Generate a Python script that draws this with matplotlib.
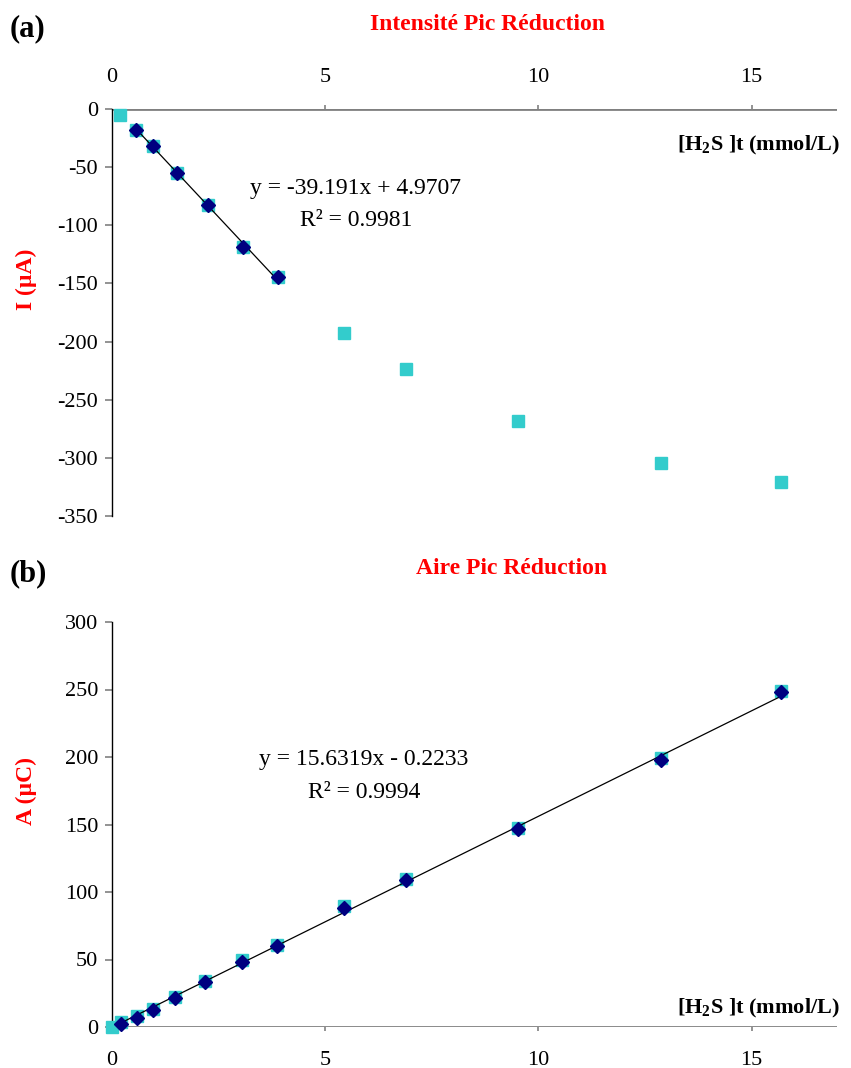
import matplotlib
matplotlib.use("Agg")
import matplotlib.pyplot as plt
import numpy as np

plt.rcParams['font.family'] = ['Liberation Serif', 'DejaVu Serif']
plt.rcParams['mathtext.fontset'] = 'custom'
plt.rcParams['mathtext.rm'] = 'Liberation Serif'
plt.rcParams['mathtext.bf'] = 'Liberation Serif:bold'
plt.rcParams['mathtext.it'] = 'Liberation Serif:italic'

# ---- data (a) ----
conc_a = [0.19, 0.57, 0.95, 1.53, 2.24, 3.08, 3.89, 5.44, 6.89, 9.53, 12.87, 15.69]
intensity = [-5, -17.8, -31.5, -55.3, -82.8, -118.6, -144.4, -192.4, -223.3, -268, -304, -321]
conc_a_fit = [0.57, 0.95, 1.53, 2.24, 3.08, 3.89]
intensity_fit = [-17.8, -31.5, -55.3, -82.8, -118.6, -144.4]
slope_a, icpt_a = -39.191, 4.9707

# ---- data (b) ----
conc_b = [0.0, 0.22, 0.58, 0.96, 1.47, 2.18, 3.05, 3.88, 5.44, 6.89, 9.53, 12.87, 15.69]
area = [0, 3.5, 8, 13.5, 22.5, 34, 49.5, 61, 89.5, 110, 147.5, 199, 249]
conc_b_fit = [0.22, 0.58, 0.96, 1.47, 2.18, 3.05, 3.88, 5.44, 6.89, 9.53, 12.87, 15.69]
area_fit = [2, 6.5, 12.5, 21.5, 33, 48, 60, 88, 109, 146.5, 198, 248]
slope_b, icpt_b = 15.6319, -0.2233

xticks = [0, 5, 10, 15]
yticks_a = [0, -50, -100, -150, -200, -250, -300, -350]
yticks_b = [0, 50, 100, 150, 200, 250, 300]

CYAN = '#33CCCC'
NAVY = '#000080'
RED = '#FF0000'
GRAY = '#808080'

W, H = 851, 1068
fig = plt.figure(figsize=(W / 100, H / 100), dpi=100)

def fx(px):
    return px / W

def fy(py):
    return 1 - py / H

TICK_FS = 16
EQ_FS = 17
TITLE_FS = 17
YLAB_FS = 17
XLAB_FS = 16
PANEL_FS = 22

def style_axes(ax, top):
    for s in ['right', 'top', 'bottom']:
        ax.spines[s].set_visible(False)
    ax.spines['left'].set_color('black')
    ax.spines['left'].set_linewidth(1.0)
    ax.axhline(0, color=GRAY, lw=2.0, zorder=1)
    ax.set_xlim(0, 17)
    ax.set_xticks(xticks)
    ax.set_xticklabels([str(t) for t in xticks])
    if top:
        ax.xaxis.set_ticks_position('top')
        ax.tick_params(axis='x', direction='out', length=0, pad=15.5,
                       labelsize=TICK_FS)
    else:
        ax.tick_params(axis='x', direction='out', length=0, pad=17,
                       labelsize=TICK_FS)
    ax.tick_params(axis='y', direction='out', length=5, width=1.2,
                   color=GRAY, labelsize=TICK_FS, pad=5)
    ax.patch.set_alpha(0)

# ---------- (a) ----------
ax1 = fig.add_axes([fx(112), fy(516), fx(837) - fx(112), fy(109) - fy(516)])
style_axes(ax1, top=True)
ax1.set_ylim(-350, 0)
ax1.set_yticks(yticks_a)
ax1.set_yticklabels([str(t) for t in yticks_a])
ax1.vlines(xticks[1:], 0, 3.5, color=GRAY, lw=1.2, clip_on=False, zorder=2)
ax1.plot(conc_a, intensity, 's', color=CYAN, ms=8.5, mec=CYAN, zorder=3,
         clip_on=False)
xa = np.array([min(conc_a_fit), max(conc_a_fit)])
ax1.plot(xa, slope_a * xa + icpt_a, color='black', lw=0.9, zorder=4)
ax1.plot(conc_a_fit, intensity_fit, 'D', color=NAVY, ms=7.5, zorder=5)
fig.text(fx(356), fy(189), 'y = -39.191x + 4.9707', fontsize=EQ_FS,
         ha='center', va='center')
fig.text(fx(356), fy(221), 'R² = 0.9981', fontsize=EQ_FS, ha='center',
         va='center')
fig.text(fx(840), fy(145), r'[$\mathbf{H_2S}$ ]t (mmol/L)', fontsize=XLAB_FS,
         fontweight='bold', ha='right', va='center')
fig.text(fx(26), fy(279), 'I (µA)', fontsize=YLAB_FS, fontweight='bold',
         color=RED, rotation=90, ha='center', va='center')
fig.text(fx(488), fy(24), 'Intensité Pic Réduction', fontsize=TITLE_FS,
         fontweight='bold', color=RED, ha='center', va='center')
fig.text(fx(10), fy(29), '(a)', fontsize=PANEL_FS, fontweight='bold',
         ha='left', va='center')

# ---------- (b) ----------
ax2 = fig.add_axes([fx(112), fy(1027), fx(837) - fx(112), fy(622) - fy(1027)])
style_axes(ax2, top=False)
ax2.set_ylim(0, 300)
ax2.set_yticks(yticks_b)
ax2.set_yticklabels([str(t) for t in yticks_b])
ax2.vlines(xticks[1:], -3, 0, color=GRAY, lw=1.2, clip_on=False, zorder=2)
ax2.plot(conc_b, area, 's', color=CYAN, ms=8.5, mec=CYAN, zorder=3,
         clip_on=False)
xb = np.array([min(conc_b_fit), max(conc_b_fit)])
ax2.plot(xb, slope_b * xb + icpt_b, color='black', lw=0.9, zorder=4)
ax2.plot(conc_b_fit, area_fit, 'D', color=NAVY, ms=7.5, zorder=5,
         clip_on=False)
fig.text(fx(364), fy(760), 'y = 15.6319x - 0.2233', fontsize=EQ_FS,
         ha='center', va='center')
fig.text(fx(364), fy(793), 'R² = 0.9994', fontsize=EQ_FS, ha='center',
         va='center')
fig.text(fx(840), fy(1008), r'[$\mathbf{H_2S}$ ]t (mmol/L)', fontsize=XLAB_FS,
         fontweight='bold', ha='right', va='center')
fig.text(fx(26), fy(791), 'A (µC)', fontsize=YLAB_FS, fontweight='bold',
         color=RED, rotation=90, ha='center', va='center')
fig.text(fx(512), fy(568), 'Aire Pic Réduction', fontsize=TITLE_FS,
         fontweight='bold', color=RED, ha='center', va='center')
fig.text(fx(10), fy(574), '(b)', fontsize=PANEL_FS, fontweight='bold',
         ha='left', va='center')

fig.savefig('out.png', dpi=100)
